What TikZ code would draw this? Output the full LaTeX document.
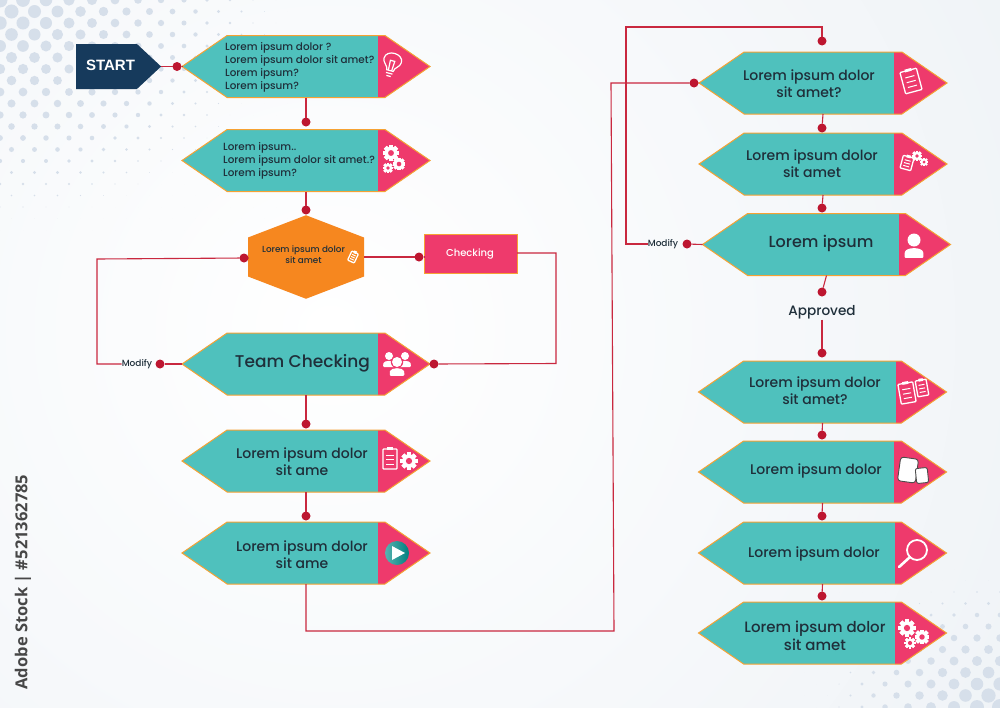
\documentclass[tikz,border=0pt]{standalone}
\usepackage{fontspec}
\setmainfont{Poppins Medium}
\newfontfamily\startfont{Liberation Sans}
\newfontfamily\sidefont{Open Sans}
\usepackage{xcolor}
\usetikzlibrary{shapes.symbols}
\definecolor{tealc}{HTML}{4FC1BD}
\definecolor{pinkc}{HTML}{EE3A6C}
\definecolor{edgec}{HTML}{F6A233}
\definecolor{hexc}{HTML}{F6871F}
\definecolor{navyc}{HTML}{163A5C}
\definecolor{wirec}{HTML}{C9283F}
\definecolor{jnc}{HTML}{BD1630}
\definecolor{inkc}{HTML}{1F2F3A}
\definecolor{bgc}{HTML}{E6ECF2}
\definecolor{halfc}{HTML}{D6DFEA}
\tikzset{
  tagbox/.style={signal,signal to=east and west,signal pointer angle=69,draw=edgec,line width=1pt,fill=tealc,
    inner sep=0pt,outer sep=0pt,minimum width=248pt,minimum height=62pt,
    path picture={\fill[pinkc] ([xshift=#1 pt,yshift=-50pt]path picture bounding box.center) rectangle ([xshift=200pt,yshift=50pt]path picture bounding box.center);}},
  hexbox/.style={signal,signal to=north and south,signal pointer angle=138,fill=hexc,inner sep=0pt,outer sep=0pt,minimum width=116pt,minimum height=39pt},
  chkbox/.style={draw=edgec,line width=1pt,fill=pinkc,inner sep=0pt,outer sep=0pt,minimum width=93pt,minimum height=39pt},
  startbox/.style={signal,signal to=east,signal pointer angle=86,fill=navyc,inner sep=0pt,outer sep=0pt,minimum width=85pt,minimum height=45pt},
  jn/.style={circle,fill=jnc,inner sep=0pt,outer sep=0pt,minimum size=9pt},
  wire/.style={draw=wirec,line width=1.1pt},
  txt/.style={text=inkc,align=center,inner sep=0pt,font=\fontsize{14}{17}\selectfont},
  lefttxt/.style={text=inkc,align=left,anchor=west,inner sep=0pt,font=\fontsize{10.4}{13}\selectfont},
  smalltxt/.style={text=inkc,inner sep=0pt,font=\fontsize{9}{11}\selectfont}
}
\newcommand{\gearicon}[3]{\foreach \a in {0,45,...,315}{\fill[white,rotate around={\a:(#1,#2)}] (#1-0.28*#3,#2-1.15*#3) rectangle (#1+0.28*#3,#2+1.15*#3);}
  \fill[white] (#1,#2) circle (0.9*#3 pt); \fill[pinkc] (#1,#2) circle (0.42*#3 pt);}
\newcommand{\clipicon}[6]{\begin{scope}[shift={(#1,#2)},rotate=#5]
  \draw[#6,line width=1.3pt,rounded corners=0.8pt] (-#3,-#4) rectangle (#3,#4);
  \fill[#6] (-0.4*#3,-#4-1.6) rectangle (0.4*#3,-#4+1.2);
  \foreach \f in {-0.4,0.05,0.5}{\draw[#6,line width=1pt] (-0.55*#3,\f*#4) -- (0.55*#3,\f*#4);}
\end{scope}}
\newcommand{\personicon}[4]{\fill[#4] (#1,#2) circle (#3 pt);
  \fill[#4,rounded corners=1pt] (#1-1.45*#3,#2+2.75*#3) -- (#1-1.45*#3,#2+2*#3) .. controls (#1-1.2*#3,#2+1.05*#3) and (#1+1.2*#3,#2+1.05*#3) .. (#1+1.45*#3,#2+2*#3) -- (#1+1.45*#3,#2+2.75*#3) -- cycle;}
\begin{document}
\begin{tikzpicture}[x=1pt,y=-1pt]
\useasboundingbox (0,0) rectangle (1000,707);
\begin{scope}
\clip (0,0) rectangle (1000,707);
\shade[inner color=white,outer color=bgc] (330,330) circle (1250pt);
\foreach \i in {0,...,12}{\foreach \j in {0,...,20}{
  \pgfmathsetmacro{\px}{\i*23+mod(\j,2)*11.5}
  \pgfmathsetmacro{\py}{\j*11.5}
  \pgfmathsetmacro{\rr}{max(7.5*(1-veclen(\px/280,\py/225)),0)}
  \fill[halfc] (\px,\py) circle (\rr pt);
}}
\foreach \i in {0,...,8}{\foreach \j in {0,...,12}{
  \pgfmathsetmacro{\px}{1000-\i*23-mod(\j,2)*11.5}
  \pgfmathsetmacro{\py}{707-\j*11.5}
  \pgfmathsetmacro{\rr}{max(8*(1-veclen((\px-1000)/175,(\py-707)/130)),0)}
  \fill[halfc] (\px,\py) circle (\rr pt);
}}
\end{scope}

\node[startbox] (start) at (106.5,66.5) {};
\node[text=white,inner sep=0pt,font=\startfont\bfseries\fontsize{15}{18}\selectfont] (startlbl) at (110.5,65) {START};
\node[tagbox=72] (q1) at (306,66.5) {};
\node[tagbox=72] (q2) at (306,160.5) {};
\node[hexbox] (hex) at (306,257) {};
\node[chkbox] (chk) at (470.5,253.5) {};
\node[tagbox=72] (team) at (306,364) {};
\node[tagbox=72] (q5) at (306,461) {};
\node[tagbox=72] (q6) at (306,553) {};
\node[tagbox=71] (r1) at (823,83) {};
\node[tagbox=71] (r2) at (823,164) {};
\node[tagbox=72.5] (r3) at (826.5,244.5) {};
\node[tagbox=73.5] (r4) at (822.5,392) {};
\node[tagbox=71.5] (r5) at (822.5,472) {};
\node[tagbox=72.5] (r6) at (822.5,553) {};
\node[tagbox=72.5] (r7) at (822.5,633) {};

\node[lefttxt] (q1lbl) at (225,67.5) {Lorem ipsum dolor ?\\Lorem ipsum dolor sit amet?\\Lorem ipsum?\\Lorem ipsum?};
\node[lefttxt] (q2lbl) at (223,160.5) {Lorem ipsum..\\Lorem ipsum dolor sit amet.?\\Lorem ipsum?};
\node[txt,font=\fontsize{8.8}{11.3}\selectfont] (hexlbl) at (303.5,254.5) {Lorem ipsum dolor\\sit amet};
\node[txt,text=white,font=\fontsize{10}{12}\selectfont] (chklbl) at (470,254) {Checking};
\node[txt,font=\fontsize{17}{20}\selectfont] (teamlbl) at (302.5,363) {Team Checking};
\node[txt] (q5lbl) at (302,461.5) {Lorem ipsum dolor\\sit ame};
\node[txt] (q6lbl) at (302,554.5) {Lorem ipsum dolor\\sit ame};
\node[txt] (r1lbl) at (809,83.5) {Lorem ipsum dolor\\sit amet?};
\node[txt] (r2lbl) at (812,164) {Lorem ipsum dolor\\sit amet};
\node[txt,font=\fontsize{16}{19}\selectfont] (r3lbl) at (821,243) {Lorem ipsum};
\node[txt] (r4lbl) at (815,391) {Lorem ipsum dolor\\sit amet?};
\node[txt] (r5lbl) at (816,471) {Lorem ipsum dolor};
\node[txt] (r6lbl) at (814,554) {Lorem ipsum dolor};
\node[txt,font=\fontsize{15}{18}\selectfont] (r7lbl) at (815,636) {Lorem ipsum dolor\\sit amet};
\node[smalltxt] (mod1) at (137,364) {Modify};
\node[smalltxt] (mod2) at (663,244) {Modify};
\node[txt,font=\fontsize{13.6}{16}\selectfont] (appr) at (822,312.5) {Approved};
\node[rotate=90,text=black!72,inner sep=0pt,font=\sidefont\bfseries\fontsize{16.5}{20}\selectfont] (side) at (23,582) {Adobe Stock | \#521362785};

\node[jn] (d0) at (177,66.5) {};
\node[jn] (d1) at (306,122) {};
\node[jn] (d2) at (306,210) {};
\node[jn] (d3) at (244,258) {};
\node[jn] (d4) at (419,257) {};
\node[jn] (d5) at (160,364) {};
\node[jn] (d6) at (434,364) {};
\node[jn] (d7) at (306,424) {};
\node[jn] (d8) at (306,516) {};
\node[jn] (e0) at (822,41) {};
\node[jn] (e1) at (694,83) {};
\node[jn] (e2) at (822,128) {};
\node[jn] (e3) at (822,208) {};
\node[jn] (e4) at (687,244) {};
\node[jn] (e5) at (822,292) {};
\node[jn] (e6) at (822,353) {};
\node[jn] (e7) at (822,435) {};
\node[jn] (e8) at (822,516) {};
\node[jn] (e9) at (822,596) {};

\coordinate (b1) at (97,364);
\coordinate (b2) at (97,259);
\coordinate (b3) at (556,363.5);
\coordinate (b4) at (556,253);
\coordinate (b5) at (306,631);
\coordinate (b6) at (614,631);
\coordinate (b7) at (611,83);
\coordinate (b8) at (822,27);
\coordinate (b9) at (626,27);
\coordinate (b10) at (626,244);

\draw[wire] (start.east) -- (d0) -- (q1.west);
\draw[wire] (q1.south) -- (d1);
\draw[wire] (q2.south) -- (d2);
\draw[wire] (hex.west|-d3) -- (d3) -- (b2) -- (b1) -- (mod1.west);
\draw[wire] (hex.east|-d4) -- (d4) -- (d4-|chk.west);
\draw[wire] (chk.east|-b4) -- (b4) -- (b3) -- (d6) -- (team.east);
\draw[wire] (d5) -- (team.west);
\draw[wire] (team.south) -- (d7);
\draw[wire] (q5.south) -- (d8);
\draw[wire] (q6.south) -- (b5) -- (b6) -- (b7) -- (e1) -- (r1.west);
\draw[wire] (e0) -- (b8) -- (b9) -- (b10) -- (mod2.west);
\draw[wire] (e4) -- (r3.west);
\draw[wire] (r1.south) -- (e2);
\draw[wire] (r2.south) -- (e3);
\draw[wire] (r3.south) -- (e5);
\draw[wire] (appr.south) -- (e6);
\draw[wire] (r4.south) -- (e7);
\draw[wire] (r5.south) -- (e8);
\draw[wire] (r6.south) -- (e9);

\begin{scope}[shift={(392,63)},rotate=-15,scale=1.12]
\draw[white,line width=1.2pt] (-3,7) .. controls (-3,3) and (-8,2) .. (-8,-2.5) .. controls (-8,-11) and (8,-11) .. (8,-2.5) .. controls (8,2) and (3,3) .. (3,7) -- cycle;
\draw[white,line width=1.2pt] (-3,9.5) -- (3,9.5) (-2,12) -- (2,12) (-1.5,7) -- (-2,-2) -- (2,-2) -- (1.5,7);
\end{scope}
\gearicon{391}{153}{7}
\gearicon{399}{164}{5.5}
\gearicon{388}{168}{4.5}
\clipicon{353}{257}{3.6}{5}{-25}{white}
\personicon{389}{356}{4}{white}
\personicon{405}{356}{4}{white}
\fill[pinkc] (397,362) circle (6.2pt);
\path[fill=pinkc] (387,377) rectangle (407,370);
\personicon{397}{362}{5}{white}
\clipicon{390}{459}{7}{10}{0}{white}
\gearicon{409}{461}{7.5}
\begin{scope}
\clip (397,553) circle (12pt);
\shade[left color=tealc!80!gray,right color=teal] (385,541) rectangle (409,565);
\end{scope}
\fill[white] (392,546) -- (405,553) -- (392,560) -- cycle;
\clipicon{911}{81}{8.5}{11}{15}{white}
\clipicon{907}{163}{5.5}{6.5}{-15}{white}
\gearicon{917}{156}{4.5}
\gearicon{924}{162}{3.6}
\personicon{914}{240}{6.5}{white}
\clipicon{907}{393}{7.5}{10}{10}{white}
\clipicon{922}{388}{5.5}{8}{10}{white}
\draw[black!70,fill=white,line width=0.9pt,rounded corners=3pt,rotate around={-8:(908,470)}] (899,458) rectangle (917,482);
\draw[black!70,fill=white,line width=0.9pt,rounded corners=2pt,rotate around={6:(922,476)}] (916,468) rectangle (928,483);
\draw[white,line width=1.8pt] (917,550) circle (10pt);
\draw[white,line width=2.6pt,line cap=round] (910,557) -- (899,567);
\gearicon{907}{628}{7.5}
\gearicon{922}{637}{6.5}
\gearicon{910}{643}{5}
\end{tikzpicture}
\end{document}
